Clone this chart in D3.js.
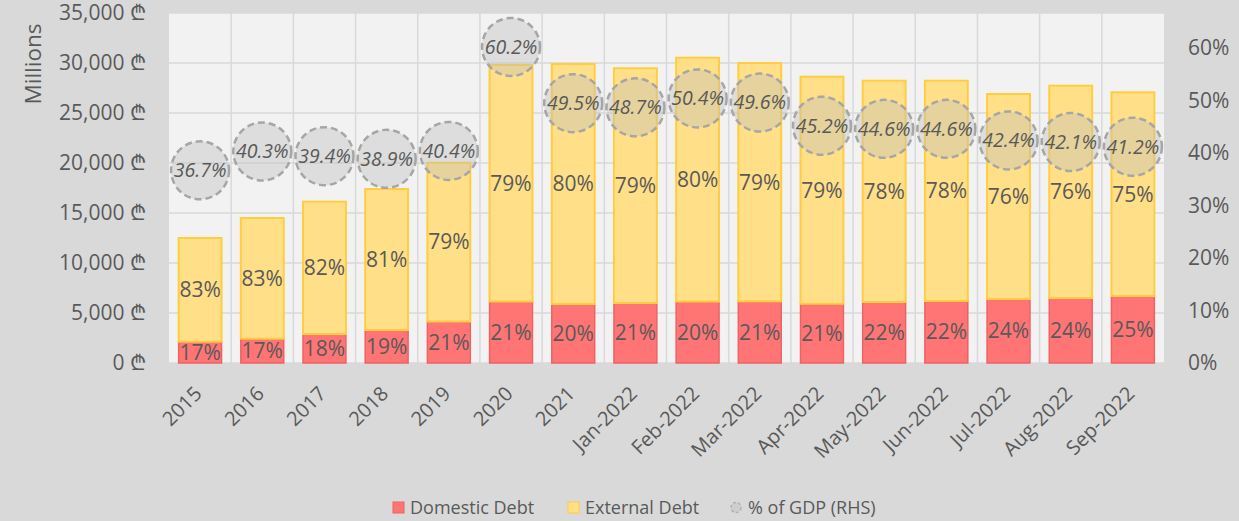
<!DOCTYPE html>
<html>
<head>
<meta charset="utf-8">
<script src="https://cdn.jsdelivr.net/npm/d3@7"></script>
<style>
  body { margin: 0; background: #d9d9d9; }
  svg { display: block; font-family: "Open Sans", "DejaVu Sans", sans-serif; }
</style>
</head>
<body>
<script>
// data (millions of lari)
const periods = ["2015", "2016", "2017", "2018", "2019", "2020", "2021", "Jan-2022", "Feb-2022",
                 "Mar-2022", "Apr-2022", "May-2022", "Jun-2022", "Jul-2022", "Aug-2022", "Sep-2022"]
const domestic = [2130, 2430, 2900, 3300, 4150, 6150, 5900, 6000, 6150, 6170, 5920, 6100, 6200, 6400, 6500, 6700]
const external = [10370, 12070, 13230, 14100, 15880, 23650, 24000, 23470, 24380, 23830, 22710, 22130, 22030, 20500, 21230, 20370]
const domesticShare = [17, 17, 18, 19, 21, 21, 20, 21, 20, 21, 21, 22, 22, 24, 24, 25]
const externalShare = [83, 83, 82, 81, 79, 79, 80, 79, 80, 79, 79, 78, 78, 76, 76, 75]
const gdpShare = [36.7, 40.3, 39.4, 38.9, 40.4, 60.2, 49.5, 48.7, 50.4, 49.6, 45.2, 44.6, 44.6, 42.4, 42.1, 41.2]
const leftTicks = [0, 5000, 10000, 15000, 20000, 25000, 30000, 35000]
const rightTicks = [0, 0.1, 0.2, 0.3, 0.4, 0.5, 0.6]

const w = 1239
const h = 521
const plotL = 169, plotR = 1164, plotT = 13, plotB = 363
const textColor = "#595959"

const rows = periods.map((p, i) => ({
    period: p, domestic: domestic[i], external: external[i],
    dShare: domesticShare[i], eShare: externalShare[i], gdp: gdpShare[i]
}))

const x = d3.scaleBand().domain(periods).range([plotL, plotR]).padding(0)
const y = d3.scaleLinear().domain([0, 35000]).range([plotB, plotT])
const y2 = d3.scaleLinear().domain([0, 0.6667]).range([plotB, plotT])
const barW = x.bandwidth() * 0.69

const svg = d3.select("body").append("svg")
    .attr("width", w)
    .attr("height", h)

svg.append("rect").attr("width", w).attr("height", h).attr("fill", "#d9d9d9")
svg.append("rect")
   .attr("x", plotL).attr("y", plotT)
   .attr("width", plotR - plotL).attr("height", plotB - plotT)
   .attr("fill", "#f2f2f2")

// gridlines
svg.append("g").selectAll("line")
   .data(leftTicks)
   .enter().append("line")
   .attr("x1", plotL).attr("x2", plotR)
   .attr("y1", d => y(d)).attr("y2", d => y(d))
   .attr("stroke", "#d9d9d9").attr("stroke-width", 1.5)

svg.append("g").selectAll("line")
   .data(periods.slice(1))
   .enter().append("line")
   .attr("x1", d => x(d)).attr("x2", d => x(d))
   .attr("y1", plotT).attr("y2", plotB)
   .attr("stroke", "#d9d9d9").attr("stroke-width", 1.5)

// stacked bars
const cx = d => x(d.period) + x.bandwidth() / 2

svg.append("g").selectAll("rect")
   .data(rows)
   .enter().append("rect")
   .attr("x", d => cx(d) - barW / 2)
   .attr("y", d => y(d.domestic))
   .attr("width", barW)
   .attr("height", d => y(0) - y(d.domestic))
   .attr("fill", "#ff7575")
   .attr("stroke", "#ee6262")
   .attr("stroke-width", 1.5)

svg.append("g").selectAll("rect")
   .data(rows)
   .enter().append("rect")
   .attr("x", d => cx(d) - barW / 2)
   .attr("y", d => y(d.domestic + d.external))
   .attr("width", barW)
   .attr("height", d => y(d.domestic) - y(d.domestic + d.external))
   .attr("fill", "#ffdf88")
   .attr("stroke", "#ffcd40")
   .attr("stroke-width", 2)

// bar labels
svg.append("g").selectAll("text")
   .data(rows)
   .enter().append("text")
   .attr("x", d => cx(d))
   .attr("y", d => (y(0) + y(d.domestic)) / 2)
   .attr("dy", "0.35em")
   .attr("text-anchor", "middle")
   .attr("font-size", 21)
   .attr("fill", textColor)
   .text(d => d.dShare + "%")

svg.append("g").selectAll("text")
   .data(rows)
   .enter().append("text")
   .attr("x", d => cx(d))
   .attr("y", d => (y(d.domestic) + y(d.domestic + d.external)) / 2)
   .attr("dy", "0.35em")
   .attr("text-anchor", "middle")
   .attr("font-size", 21)
   .attr("fill", textColor)
   .text(d => d.eShare + "%")

// % of GDP bubbles
const bub = svg.append("g").selectAll("g")
   .data(rows)
   .enter().append("g")
   .attr("transform", d => "translate(" + cx(d) + "," + y2(d.gdp / 100) + ")")

bub.append("circle")
   .attr("r", 29)
   .attr("fill", "rgba(190,190,190,0.4)")
   .attr("stroke", "#a6a6a6")
   .attr("stroke-width", 2.5)
   .attr("stroke-dasharray", "7,4")

bub.append("text")
   .attr("dy", "0.35em")
   .attr("text-anchor", "middle")
   .attr("font-size", 19.5)
   .attr("font-style", "italic")
   .attr("fill", textColor)
   .text(d => d.gdp.toFixed(1) + "%")

// axes
const yAxis = d3.axisLeft(y).tickValues(leftTicks)
    .tickFormat(d => d3.format(",")(d) + " \u20BE").tickSize(0).tickPadding(0)
const y2Axis = d3.axisRight(y2).tickValues(rightTicks)
    .tickFormat(d3.format(".0%")).tickSize(0).tickPadding(0)

svg.append("g")
   .attr("transform", "translate(146,0)")
   .call(yAxis)
   .call(g => g.select(".domain").remove())
   .selectAll("text").attr("font-size", 21).attr("fill", textColor)

svg.append("g")
   .attr("transform", "translate(1188,0)")
   .call(y2Axis)
   .call(g => g.select(".domain").remove())
   .selectAll("text").attr("font-size", 21).attr("fill", textColor)

svg.selectAll(".tick text").attr("font-family", "Open Sans, DejaVu Sans, sans-serif")

svg.append("text")
   .attr("transform", "translate(41,64) rotate(-90)")
   .attr("text-anchor", "middle")
   .attr("font-size", 22.5)
   .attr("fill", textColor)
   .text("Millions")

// category labels
svg.append("g").selectAll("text")
   .data(periods)
   .enter().append("text")
   .attr("transform", d => "translate(" + (x(d) + x.bandwidth() / 2 - 2) + ",390) rotate(-45)")
   .attr("text-anchor", "end")
   .attr("dy", "0.35em")
   .attr("font-size", 20)
   .attr("fill", textColor)
   .text(d => d)

// legend
const legend = svg.append("g").attr("font-size", 18).attr("fill", textColor)
legend.append("rect").attr("x", 393).attr("y", 502).attr("width", 11).attr("height", 11)
      .attr("fill", "#ff7575").attr("stroke", "#ee6262")
legend.append("text").attr("x", 410).attr("y", 508).attr("dy", "0.35em").text("Domestic Debt")
legend.append("rect").attr("x", 568).attr("y", 502).attr("width", 11).attr("height", 11)
      .attr("fill", "#ffdf88").attr("stroke", "#ffcd40")
legend.append("text").attr("x", 585).attr("y", 508).attr("dy", "0.35em").text("External Debt")
legend.append("circle").attr("cx", 736).attr("cy", 507.5).attr("r", 5)
      .attr("fill", "rgba(190,190,190,0.4)").attr("stroke", "#b0b0b0")
      .attr("stroke-width", 1.5).attr("stroke-dasharray", "3,2")
legend.append("text").attr("x", 748).attr("y", 508).attr("dy", "0.35em").text("% of GDP (RHS)")
</script>
</body>
</html>
